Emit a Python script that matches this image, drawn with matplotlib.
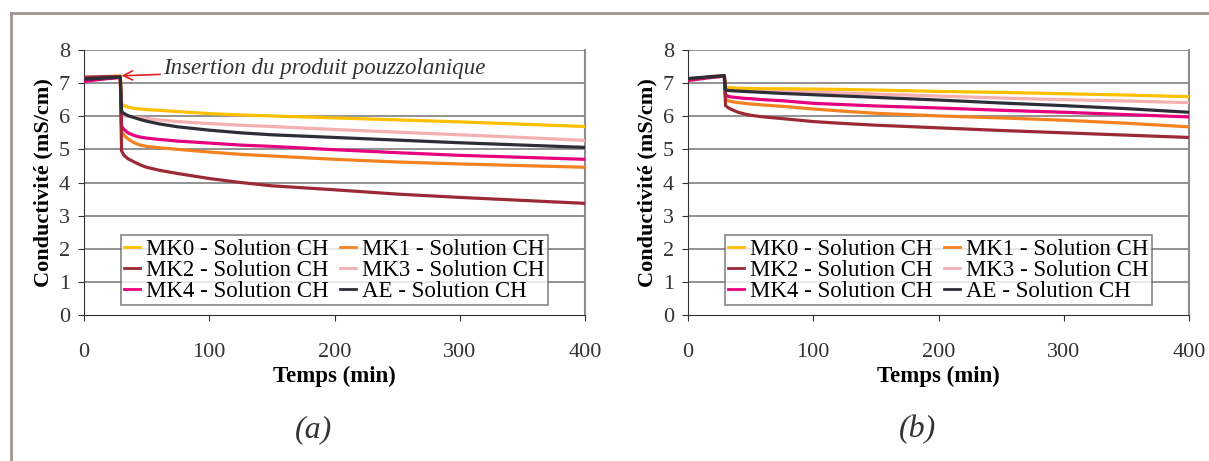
import matplotlib
matplotlib.use("Agg")
import matplotlib.pyplot as plt
from matplotlib.lines import Line2D

plt.rcParams['font.family'] = ['Liberation Serif', 'DejaVu Serif']

# ---- data ----
t_pre = [0, 10, 20, 29]
t_post = [30, 32, 35, 40, 45, 50, 60, 75, 100, 125, 150, 200, 250, 300, 350, 400]

labels = ["MK0 - Solution CH", "MK1 - Solution CH", "MK2 - Solution CH",
          "MK3 - Solution CH", "MK4 - Solution CH", "AE - Solution CH"]
colors = ["#FFC000", "#F58220", "#9B2A34", "#F4AFB0", "#E6007E", "#2E2E38"]

# panel (a)
a_mk0 = [7.15, 7.17, 7.20, 7.22,
         6.38, 6.32, 6.28, 6.24, 6.22, 6.20, 6.18, 6.14, 6.08, 6.04, 6.01, 5.95, 5.89, 5.83, 5.76, 5.69]
a_mk1 = [7.12, 7.14, 7.16, 7.18,
         5.55, 5.42, 5.32, 5.20, 5.13, 5.09, 5.05, 5.00, 4.92, 4.85, 4.80, 4.70, 4.62, 4.56, 4.51, 4.46]
a_mk2 = [7.18, 7.19, 7.20, 7.20,
         4.95, 4.82, 4.72, 4.62, 4.53, 4.46, 4.37, 4.27, 4.12, 4.00, 3.90, 3.78, 3.65, 3.55, 3.46, 3.37]
a_mk3 = [7.05, 7.10, 7.15, 7.18,
         6.05, 6.02, 6.00, 5.98, 5.95, 5.93, 5.89, 5.84, 5.78, 5.73, 5.69, 5.60, 5.52, 5.44, 5.36, 5.27]
a_mk4 = [7.05, 7.10, 7.14, 7.17,
         5.70, 5.60, 5.50, 5.42, 5.37, 5.34, 5.30, 5.25, 5.19, 5.13, 5.09, 4.99, 4.90, 4.82, 4.76, 4.70]
a_ae = [7.12, 7.14, 7.16, 7.18,
        6.14, 6.08, 6.02, 5.96, 5.90, 5.85, 5.77, 5.68, 5.58, 5.50, 5.44, 5.36, 5.28, 5.20, 5.13, 5.06]

# panel (b)
b_mk0 = [7.10, 7.15, 7.20, 7.22,
         6.88, 6.87, 6.86, 6.85, 6.84, 6.84, 6.83, 6.83, 6.82, 6.81, 6.79, 6.75, 6.72, 6.68, 6.64, 6.59]
b_mk1 = [7.10, 7.15, 7.19, 7.21,
         6.52, 6.47, 6.44, 6.41, 6.39, 6.37, 6.34, 6.30, 6.22, 6.15, 6.09, 6.01, 5.95, 5.88, 5.79, 5.68]
b_mk2 = [7.12, 7.16, 7.19, 7.21,
         6.32, 6.26, 6.20, 6.12, 6.07, 6.03, 5.98, 5.93, 5.84, 5.78, 5.73, 5.65, 5.57, 5.50, 5.43, 5.36]
b_mk3 = [7.08, 7.13, 7.18, 7.21,
         6.84, 6.83, 6.82, 6.81, 6.80, 6.79, 6.77, 6.76, 6.73, 6.70, 6.67, 6.61, 6.55, 6.50, 6.46, 6.41]
b_mk4 = [7.08, 7.13, 7.18, 7.21,
         6.65, 6.60, 6.58, 6.56, 6.54, 6.53, 6.50, 6.47, 6.39, 6.35, 6.31, 6.25, 6.18, 6.12, 6.05, 5.98]
b_ae = [7.14, 7.17, 7.20, 7.23,
        6.80, 6.78, 6.77, 6.76, 6.75, 6.74, 6.72, 6.69, 6.65, 6.61, 6.57, 6.49, 6.40, 6.32, 6.23, 6.12]

series_a = [a_mk0, a_mk1, a_mk2, a_mk3, a_mk4, a_ae]
series_b = [b_mk0, b_mk1, b_mk2, b_mk3, b_mk4, b_ae]
x_ticks = [0, 100, 200, 300, 400]
y_ticks = [0, 1, 2, 3, 4, 5, 6, 7, 8]

fig = plt.figure(figsize=(12.09, 4.61), dpi=100)

# outer frame (top and left only)
fig.add_artist(Line2D([11/1209, 11/1209], [0, 1 - 13/461], transform=fig.transFigure,
                      color="#a39693", lw=2))
fig.add_artist(Line2D([11/1209, 1.0], [1 - 13/461, 1 - 13/461], transform=fig.transFigure,
                      color="#a39693", lw=2))

t_all = t_pre + t_post
ax_w = 501 / 1209
ax_h = 265 / 461
bottom = (461 - 315) / 461
lefts = [84 / 1209, 688 / 1209]
legend_order = [0, 2, 4, 1, 3, 5]  # row-major layout in 2 columns

for i, (left, series) in enumerate(zip(lefts, [series_a, series_b])):
    ax = fig.add_axes([left, bottom, ax_w, ax_h])
    for y in y_ticks[1:]:
        ax.axhline(y, color="#7f7f7f", lw=1.2, zorder=0)
    zorders = {3: 3.0, 0: 3.1, 1: 3.2, 4: 3.3, 2: 3.4, 5: 3.5}
    handles = {}
    for k in range(6):
        ln, = ax.plot(t_all, series[k], color=colors[k], lw=2.3, label=labels[k],
                      zorder=zorders[k], solid_joinstyle='round')
        handles[k] = ln
    ax.set_xlim(0, 400)
    ax.set_ylim(0, 8)
    ax.set_xticks(x_ticks)
    ax.set_yticks(y_ticks)
    ax.tick_params(axis='both', labelsize=16, direction='out', length=4,
                   color="#333333", labelcolor="#333333", pad=6)
    ax.tick_params(axis='x', pad=16)
    ax.spines["top"].set_visible(False)
    ax.spines["left"].set_color("#333333")
    ax.spines["bottom"].set_color("#333333")
    ax.spines["right"].set_color("#8c8c8c")
    ax.spines["right"].set_linewidth(1.5)
    ax.set_ylabel("Conductivité (mS/cm)", fontsize=16, fontweight='bold', labelpad=4)
    ax.set_xlabel("Temps (min)", fontsize=16.5, fontweight='bold', labelpad=3)
    leg = ax.legend(handles=[handles[k] for k in legend_order], ncol=2, loc='lower center',
                    bbox_to_anchor=(0.5, 0.01), fontsize=16.5, frameon=True, fancybox=False,
                    handlelength=0.7, handletextpad=0.25, columnspacing=0.5,
                    labelspacing=0.0, borderpad=0.15, borderaxespad=0.3)
    leg.get_frame().set_edgecolor("#666666")
    leg.get_frame().set_linewidth(1.2)
    for lh in leg.get_lines():
        lh.set_linewidth(2)
    if i == 0:
        ax.annotate("Insertion du produit pouzzolanique", xy=(30, 7.22), xytext=(63, 7.45),
                    fontsize=16.5, style='italic', color="#333333", va='center',
                    arrowprops=dict(arrowstyle='->', color="#e02020", lw=1.2,
                                    shrinkA=0, shrinkB=0))

fig.text(313 / 1209, 1 - 430 / 461, "(a)", fontsize=23, style='italic', ha='center',
         va='center', color="#333333")
fig.text(917 / 1209, 1 - 430 / 461, "(b)", fontsize=23, style='italic', ha='center',
         va='center', color="#333333")

fig.savefig("out.png", dpi=100)
